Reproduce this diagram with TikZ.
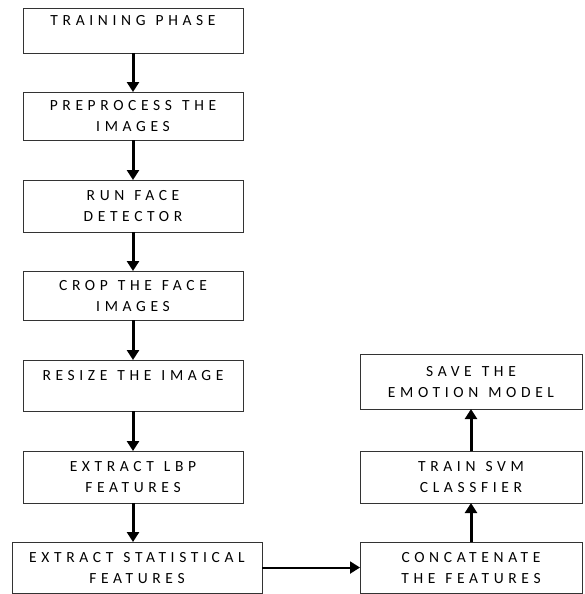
\documentclass[tikz,border=0pt]{standalone}
\usepackage{fontspec}
\setmainfont{Carlito}[LetterSpace=30]
\usetikzlibrary{arrows.meta,positioning}
\newcommand\stepfont{\fontsize{15.5}{21}\selectfont}
\newcommand\wgap{\hspace{10pt}}

\begin{document}
\begin{tikzpicture}[x=1pt, y=1pt,
            node distance=39pt and 98pt,
            block/.style={rectangle, draw=black!80, line width=0.9pt, outer sep=0pt, text width=206pt, align=center, minimum height=50pt, inner sep=7pt, font=\stepfont, text=black},
            arrow/.style={-{Triangle[width=12pt,length=10pt]}, line width=3pt}
        ]
            \useasboundingbox (0,0) rectangle (584,-594);

            % Training steps
            \node[block, minimum height=43pt] (phase) at (133,-30.5) {TRAINING\wgap PHASE\\~};
            \node[block, minimum height=48pt, below=of phase] (preproc) {PREPROCESS\wgap THE\\IMAGES};
            \node[block, minimum height=52pt, below=40pt of preproc] (detect) {RUN\wgap FACE\\DETECTOR};
            \node[block, minimum height=49pt, below=of detect] (crop) {CROP\wgap THE\wgap FACE\\IMAGES};
            \node[block, minimum height=51pt, below=40pt of crop] (resize) {RESIZE\wgap THE\wgap IMAGE\\~};
            \node[block, minimum height=52pt, below=40pt of resize] (lbp) {EXTRACT\wgap LBP\\FEATURES};
            \node[block, minimum height=51pt, text width=236pt, below=of lbp, xshift=4pt] (stat) {EXTRACT\wgap STATISTICAL\\FEATURES};

            % Model
            \node[block, minimum height=51pt, text width=208pt, right=of stat] (concat) {CONCATENATE\\THE\wgap FEATURES};
            \node[block, minimum height=52pt, text width=208pt, above=of concat] (svm) {TRAIN\wgap SVM\\CLASSFIER};
            \node[block, minimum height=55pt, text width=208pt, above=42pt of svm] (save) {SAVE\wgap THE\\EMOTION\wgap MODEL};

            % Arrows
            \draw[arrow] (phase) -- (preproc);
            \draw[arrow] (preproc) -- (detect);
            \draw[arrow] (detect) -- (crop);
            \draw[arrow] (crop) -- (resize);
            \draw[arrow] (resize) -- (lbp);
            \draw[arrow] (lbp) -- (lbp |- stat.north);
            \draw[arrow, line width=2pt] (stat) -- (concat);
            \draw[arrow] (concat) -- (svm);
            \draw[arrow] (svm) -- (save);
        \end{tikzpicture}
\end{document}
